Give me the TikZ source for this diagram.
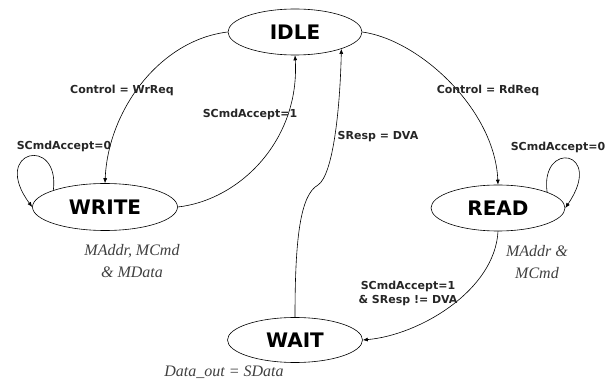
\documentclass[tikz,border=0pt]{standalone}
\usepackage{fontspec}
\usetikzlibrary{arrows.meta,shapes.geometric}
\newfontfamily\labfont{DejaVu Sans}
\newfontfamily\notefont{Liberation Serif}
\begin{document}
\begin{tikzpicture}[x=1pt,y=-1pt,
  statebox/.style={ellipse,draw,line width=0.6pt,inner sep=0pt,
    font=\labfont\bfseries\fontsize{20}{24}\selectfont},
  trans/.style={draw,line width=0.6pt,-{Latex[length=5pt,width=4pt]}},
  cond/.style={inner sep=0pt,align=center,
    font=\labfont\bfseries\fontsize{11}{14}\selectfont,text=black!85},
  note/.style={inner sep=0pt,align=center,
    font=\notefont\itshape\fontsize{16}{22}\selectfont,text=black!75}]
\useasboundingbox (0,0) rectangle (606,385);
\node[statebox,minimum width=134pt,minimum height=46pt] (idle) at (295,32) {IDLE};
\node[statebox,minimum width=145pt,minimum height=47pt] (write) at (105,207) {WRITE};
\node[statebox,minimum width=134pt,minimum height=46pt] (read) at (498,208) {READ};
\node[statebox,minimum width=135pt,minimum height=45pt] (wait) at (295,340) {WAIT};
\coordinate (kink) at (318,185);
% transitions
\draw[trans] (idle.west) .. controls (160,40) and (108,110) .. (write.north);
\draw[trans] (write.east) .. controls (240,200) and (300,140) .. (idle.south);
\draw[trans] (write.162) .. controls (60,135) and (-10,150) .. (write.west);
\draw[trans] (idle.east) .. controls (420,40) and (495,110) .. (read.north);
\draw[trans] (read.18) .. controls (540,140) and (605,150) .. (read.east);
\draw[trans] (wait.north) .. controls (295,240) and (300,195) .. (kink)
   .. controls (333,175) and (340,110) .. (idle.340);
\draw[trans] (read.south) .. controls (495,290) and (420,335) .. (wait.east);
% labels
\node[cond] (l1) at (122,90) {Control = WrReq};
\node[cond] (l2) at (250,114) {SCmdAccept=1};
\node[cond] (l3) at (64,146) {SCmdAccept=0};
\node[cond] (l4) at (488,90) {Control = RdReq};
\node[cond] (l5) at (558,147) {SCmdAccept=0};
\node[cond] (l6) at (378,137) {SResp = DVA};
\node[cond] (l7) at (408,293) {SCmdAccept=1\\\& SResp != DVA};
\node[note] (n1) at (132,261) {MAddr, MCmd\\\& MData};
\node[note] (n2) at (537,262) {MAddr \&\\MCmd};
\node[note] (n3) at (224,372) {Data\_out = SData};
\end{tikzpicture}
\end{document}
